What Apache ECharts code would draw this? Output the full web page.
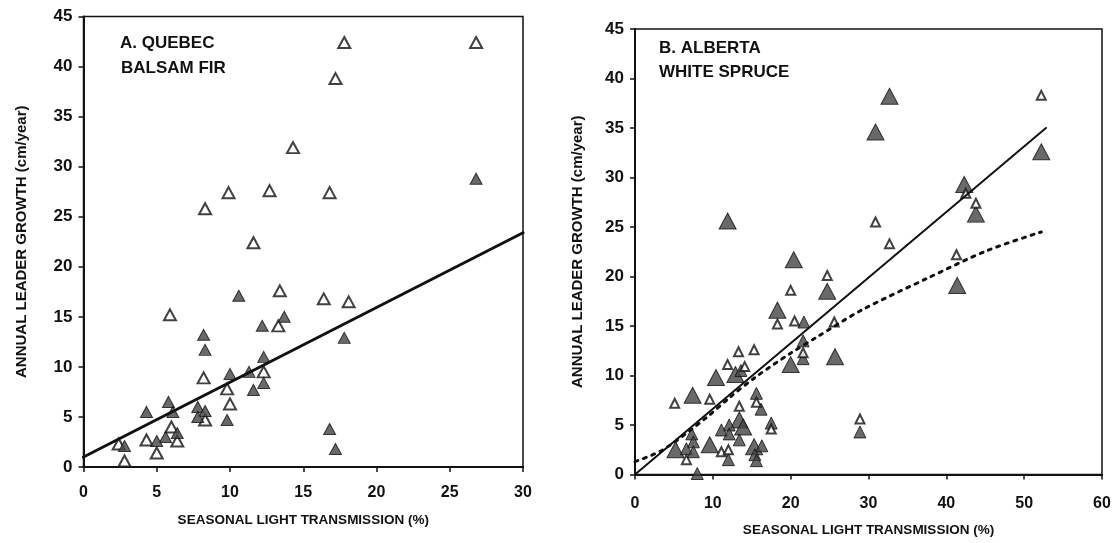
<!DOCTYPE html>
<html>
<head>
<meta charset="utf-8">
<script src="https://cdn.jsdelivr.net/npm/echarts@6/dist/echarts.min.js"></script>
<style>
  html, body { margin: 0; padding: 0; background: #fff; }
  #chart { width: 1117px; height: 543px; }
</style>
</head>
<body>
<div id="chart"></div>
<script>
// Panel A: Quebec balsam fir — [light transmission %, leader growth cm/yr]
const quebecOpen = [
  [14.3, 31.9], [9.9, 27.4], [12.7, 27.6], [8.3, 25.8], [11.6, 22.4],
  [17.8, 42.4], [26.8, 42.4], [17.2, 38.8], [16.8, 27.4], [13.4, 17.6],
  [5.9, 15.2], [16.4, 16.8], [18.1, 16.5], [13.3, 14.1], [8.2, 8.9],
  [12.3, 9.5], [9.8, 7.8], [10.0, 6.3], [8.3, 4.7], [6.0, 4.0],
  [6.4, 2.6], [4.3, 2.7], [5.0, 1.4], [2.4, 2.3], [2.8, 0.6]
];
const quebecFilled = [
  [26.8, 28.8], [10.6, 17.1], [13.7, 15.0], [12.2, 14.1], [8.2, 13.2],
  [8.3, 11.7], [12.3, 11.0], [11.3, 9.5], [10.0, 9.3], [12.3, 8.4],
  [11.6, 7.7], [9.8, 4.7], [5.8, 6.5], [6.1, 5.5], [4.3, 5.5],
  [7.8, 6.0], [8.3, 5.6], [7.8, 5.0], [6.4, 3.4], [5.6, 3.0],
  [5.0, 2.6], [2.8, 2.1], [17.8, 12.9], [16.8, 3.8], [17.2, 1.8]
];
const quebecFit = [[0, 1.0], [30, 23.4]];

// Panel B: Alberta white spruce
const albertaLarge = [
  [11.9, 25.6], [20.4, 21.7], [32.7, 38.2], [30.9, 34.6], [52.2, 32.6],
  [42.3, 29.3], [43.8, 26.3], [41.4, 19.1], [24.7, 18.5], [18.3, 16.6],
  [20.0, 11.1], [25.7, 11.9], [12.9, 10.1], [10.4, 9.8], [7.4, 8.0],
  [13.4, 5.5], [13.9, 4.8], [9.6, 3.0], [5.2, 2.5], [15.3, 2.8]
];
const albertaMedium = [
  [21.7, 15.4], [21.6, 13.5], [21.6, 11.7], [13.6, 10.5], [15.6, 8.2],
  [12.1, 5.0], [11.1, 4.5], [12.1, 4.1], [13.4, 3.5], [17.5, 5.2],
  [7.3, 4.1], [7.5, 3.3], [6.6, 2.6], [7.5, 2.3], [16.3, 2.9],
  [15.4, 2.0], [15.6, 1.4], [12.0, 1.5], [8.0, 0.1], [28.9, 4.3],
  [16.2, 6.6]
];
const albertaSmall = [
  [52.2, 38.3], [42.5, 28.4], [43.8, 27.4], [30.9, 25.5], [32.7, 23.3],
  [41.3, 22.2], [24.7, 20.1], [20.0, 18.6], [18.3, 15.2], [20.5, 15.5],
  [25.6, 15.4], [21.6, 12.3], [13.3, 12.4], [15.3, 12.6], [11.9, 11.1],
  [14.1, 10.9], [5.1, 7.2], [9.6, 7.6], [15.6, 7.3], [13.4, 6.9],
  [17.5, 4.6], [6.6, 1.5], [11.1, 2.3], [12.0, 2.5], [28.9, 5.6]
];
const albertaFit = [[0, 0], [52.8, 35.0]];
const albertaCurve = [
  [0, 1.3], [3.6, 2.5], [9.1, 5.7], [12.2, 7.8], [15.6, 9.9], [19.9, 12.2],
  [23.4, 13.9], [29.1, 16.6], [37.5, 19.8], [45.2, 22.6], [52.2, 24.5]
];

const quebecXTicks = [0, 30, 5];
const albertaXTicks = [0, 60, 10];
const growthTicks = [0, 45, 5];

const FONT = "'Liberation Sans', Arial, sans-serif";
const INK = '#111';
const FILL = '#444';

function xAxis(gridIndex, ticks, labelMargin, nameGap) {
  return {
    gridIndex, type: 'value', min: ticks[0], max: ticks[1], interval: ticks[2],
    name: 'SEASONAL LIGHT TRANSMISSION (%)', nameLocation: 'middle', nameGap,
    nameTextStyle: { fontFamily: FONT, fontWeight: 'bold', fontSize: 13.5, color: INK },
    axisLine: { show: true, onZero: false, lineStyle: { color: INK, width: 2 } },
    axisTick: { show: true, inside: false, length: 5, lineStyle: { color: INK, width: 1.5 } },
    axisLabel: { margin: labelMargin, fontFamily: FONT, fontWeight: 'bold', fontSize: 16, color: INK },
    splitLine: { show: false }
  };
}
function yAxis(gridIndex, ticks, nameGap) {
  return {
    gridIndex, type: 'value', min: ticks[0], max: ticks[1], interval: ticks[2],
    name: 'ANNUAL LEADER GROWTH (cm/year)', nameLocation: 'middle', nameGap, nameRotate: 90,
    nameTextStyle: { fontFamily: FONT, fontWeight: 'bold', fontSize: 15, color: INK },
    axisLine: { show: true, onZero: false, lineStyle: { color: INK, width: 2 } },
    axisTick: { show: true, inside: false, length: 5, lineStyle: { color: INK, width: 1.5 } },
    axisLabel: { margin: 11, fontFamily: FONT, fontWeight: 'bold', fontSize: 17, color: INK },
    splitLine: { show: false }
  };
}
function tri(name, idx, data, size, filled) {
  return {
    name, type: 'scatter', xAxisIndex: idx, yAxisIndex: idx, data,
    symbol: 'triangle', symbolSize: size, z: 3,
    itemStyle: filled
      ? { color: FILL, borderColor: INK, borderWidth: 1 }
      : { color: '#fff', borderColor: INK, borderWidth: 2 }
  };
}
function fitLine(name, idx, data, width, type) {
  return {
    name, type: 'line', xAxisIndex: idx, yAxisIndex: idx, data,
    showSymbol: false, smooth: type !== 'solid' ? 0.3 : false, z: 4,
    lineStyle: { color: INK, width, type, cap: 'round' }
  };
}

const chart = echarts.init(document.getElementById('chart'), null, { renderer: 'canvas' });
chart.setOption({
  animation: false,
  backgroundColor: '#fff',
  grid: [
    { left: 83.5, top: 16.5, width: 439.5, height: 450.5, show: true, borderColor: INK, borderWidth: 1.5, backgroundColor: 'transparent' },
    { left: 635, top: 29, width: 467, height: 445.5, show: true, borderColor: INK, borderWidth: 1.5, backgroundColor: 'transparent' }
  ],
  xAxis: [xAxis(0, quebecXTicks, 18, 46), xAxis(1, albertaXTicks, 21, 49)],
  yAxis: [yAxis(0, growthTicks, 54), yAxis(1, growthTicks, 50)],
  graphic: [
    { type: 'text', left: 120, top: 35, style: { text: 'A. QUEBEC', font: "bold 17px 'Liberation Sans', Arial, sans-serif", fill: INK } },
    { type: 'text', left: 121, top: 60, style: { text: 'BALSAM FIR', font: "bold 17px 'Liberation Sans', Arial, sans-serif", fill: INK } },
    { type: 'text', left: 659, top: 40, style: { text: 'B. ALBERTA', font: "bold 17px 'Liberation Sans', Arial, sans-serif", fill: INK } },
    { type: 'text', left: 659, top: 64, style: { text: 'WHITE SPRUCE', font: "bold 17px 'Liberation Sans', Arial, sans-serif", fill: INK } }
  ],
  series: [
    fitLine('Quebec fit', 0, quebecFit, 3, 'solid'),
    tri('Quebec open', 0, quebecOpen, [12, 11], false),
    tri('Quebec filled', 0, quebecFilled, [12, 11], true),
    fitLine('Alberta fit', 1, albertaFit, 2, 'solid'),
    fitLine('Alberta curve', 1, albertaCurve, 3, [3, 6]),
    tri('Alberta large', 1, albertaLarge, [17, 16], true),
    tri('Alberta medium', 1, albertaMedium, [12, 12], true),
    tri('Alberta small', 1, albertaSmall, [9, 9], false)
  ]
});
</script>
</body>
</html>
